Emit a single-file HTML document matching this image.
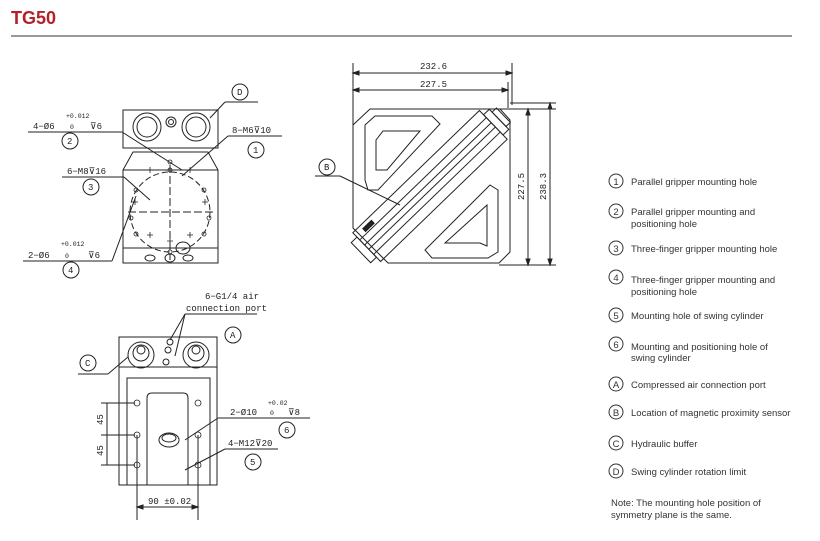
<!DOCTYPE html>
<html><head><meta charset="utf-8"><style>
body{margin:0;background:#fff;width:820px;height:541px;overflow:hidden}
svg{display:block}
.t{font-family:"Liberation Sans",sans-serif;font-size:9.5px;fill:#333}
.d{font-family:"Liberation Mono",monospace;font-size:9px;fill:#222}
.s{font-family:"Liberation Mono",monospace;font-size:6.5px;fill:#222}
</style></head><body>
<svg width="820" height="541" viewBox="0 0 820 541" xmlns="http://www.w3.org/2000/svg">
<text x="11" y="24" font-family="Liberation Sans,sans-serif" font-weight="bold" font-size="18" fill="#b3212b">TG50</text>
<line x1="11" y1="36" x2="792" y2="36" stroke="#333" stroke-width="1"/>

<g fill="none" stroke="#222" stroke-width="1">
<!-- Top-left view -->
<rect x="123" y="110" width="95" height="38"/>
<circle cx="147" cy="127" r="14"/><circle cx="147" cy="127" r="10"/>
<circle cx="196" cy="127" r="14"/><circle cx="196" cy="127" r="10"/>
<circle cx="171" cy="122" r="5"/><circle cx="171" cy="122" r="2.5"/>
<line x1="123" y1="148" x2="218" y2="148"/>
<path d="M123 170 L133 152 L208 152 L218 170 L218 263 L123 263 Z"/>
<line x1="123" y1="170" x2="218" y2="170"/>
<line x1="123" y1="248" x2="218" y2="248"/>
<ellipse cx="150" cy="258" rx="5" ry="3"/><ellipse cx="170" cy="258" rx="5" ry="4"/><ellipse cx="188" cy="258" rx="5" ry="3"/>
<ellipse cx="183" cy="248" rx="7" ry="6"/>
<circle cx="170" cy="212" r="40" stroke-dasharray="6,3"/>
<line x1="128" y1="212" x2="214" y2="212" stroke-dasharray="8,3"/>
<line x1="170" y1="165" x2="170" y2="260" stroke-dasharray="8,3"/>
<g stroke-width="0.8">
<circle cx="170" cy="170" r="2"/><circle cx="170" cy="252" r="2"/><circle cx="136" cy="190" r="2"/><circle cx="204" cy="190" r="2"/><circle cx="136" cy="234" r="2"/><circle cx="204" cy="234" r="2"/><circle cx="131" cy="218" r="2"/><circle cx="209" cy="218" r="2"/><circle cx="170" cy="162" r="2"/>
<path d="M150 167v6M147 170h6M190 167v6M187 170h6M150 232v6M147 235h6M190 232v6M187 235h6M135 199v6M132 202h6M205 199v6M202 202h6M170 238v6M167 241h6"/>
</g>
<!-- leaders top-left -->
<line x1="28" y1="132" x2="122" y2="132"/><line x1="122" y1="132" x2="182" y2="170"/>
<circle cx="70" cy="141" r="8"/>
<line x1="228" y1="136" x2="282" y2="136"/><line x1="228" y1="136" x2="182" y2="176"/>
<circle cx="256" cy="150" r="8"/>
<line x1="225" y1="102" x2="258" y2="102"/><line x1="225" y1="102" x2="210" y2="118"/>
<circle cx="240" cy="92" r="8"/>
<line x1="62" y1="177" x2="124" y2="177"/><line x1="124" y1="177" x2="150" y2="200"/>
<circle cx="91" cy="187" r="8"/>
<line x1="23" y1="261" x2="112" y2="261"/><line x1="112" y1="261" x2="136" y2="196"/>
<circle cx="71" cy="270" r="8"/>

<!-- Top-middle view -->
<line x1="353" y1="63" x2="353" y2="225"/><line x1="512" y1="63" x2="512" y2="105"/><line x1="508" y1="82" x2="508" y2="108"/>
<line x1="353" y1="73" x2="512" y2="73"/><line x1="353" y1="90" x2="508" y2="90"/>
<path d="M353 73l6-2v4zM512 73l-6-2v4zM353 90l6-2v4zM508 90l-6-2v4z" fill="#222"/>
<path d="M370 109 L500 109 L510 120 L510 252 L499 263 L388 263 L353 228 L353 125 Z"/>
<path d="M365 125 L375 116 L432 116 L440 124 L378 190 L368 190 L365 180 Z"/>
<path d="M376 140 L383 131 L420 131 L387 170 L376 170 Z"/>
<path d="M498 252 L488 258 L432 258 L425 250 L490 185 L498 190 Z"/>
<path d="M487 246 L480 243 L445 243 L487 205 Z"/>
<g transform="rotate(-44 430 186)">
<rect x="342" y="166" width="176" height="40"/>
<line x1="342" y1="176" x2="518" y2="176"/><line x1="342" y1="196" x2="518" y2="196"/>
<line x1="342" y1="183" x2="518" y2="183"/><line x1="342" y1="189" x2="518" y2="189"/>
<rect x="518" y="172" width="8" height="28"/><rect x="526" y="176" width="6" height="20"/>
<rect x="334" y="172" width="8" height="28"/>
<rect x="352" y="170" width="12" height="4" fill="#222"/>
</g>
<line x1="500" y1="109" x2="556" y2="109"/><line x1="499" y1="265" x2="556" y2="265"/><line x1="510" y1="103" x2="556" y2="103"/>
<line x1="528" y1="109" x2="528" y2="265"/><line x1="550" y1="103" x2="550" y2="265"/>
<path d="M528 109l-2 6h4zM528 265l-2-6h4zM550 103l-2 6h4zM550 265l-2-6h4z" fill="#222"/>
<circle cx="327" cy="167" r="8"/>
<line x1="315" y1="176" x2="340" y2="176"/><line x1="340" y1="176" x2="400" y2="205"/>

<!-- Bottom view -->
<rect x="119" y="337" width="98" height="148"/>
<line x1="119" y1="367" x2="217" y2="367"/>
<circle cx="141" cy="355" r="13"/><circle cx="141" cy="353" r="8"/><circle cx="141" cy="350" r="4"/>
<circle cx="196" cy="355" r="13"/><circle cx="196" cy="353" r="8"/><circle cx="196" cy="350" r="4"/>
<circle cx="168" cy="350" r="3"/><circle cx="166" cy="362" r="3"/><circle cx="170" cy="342" r="3"/>
<rect x="127" y="378" width="83" height="107"/>
<path d="M147 485 L147 398 Q147 393 152 393 L183 393 Q188 393 188 398 L188 485"/>
<ellipse cx="169" cy="440" rx="10" ry="7"/><ellipse cx="169" cy="438" rx="7" ry="4"/>
<g stroke-width="0.8">
<circle cx="137" cy="403" r="3"/><circle cx="137" cy="435" r="3"/><circle cx="137" cy="465" r="3"/>
<circle cx="198" cy="403" r="3"/><circle cx="198" cy="435" r="3"/><circle cx="198" cy="465" r="3"/>
</g>
<line x1="101" y1="403" x2="135" y2="403"/><line x1="101" y1="435" x2="135" y2="435"/><line x1="101" y1="465" x2="135" y2="465"/>
<line x1="107" y1="403" x2="107" y2="465"/>
<line x1="137" y1="435" x2="137" y2="520"/><line x1="198" y1="435" x2="198" y2="520"/>
<line x1="137" y1="507" x2="198" y2="507"/>
<path d="M137 507l6-2v4zM198 507l-6-2v4z" fill="#222"/>
<line x1="185" y1="314" x2="257" y2="314"/><line x1="185" y1="314" x2="170" y2="340"/><line x1="185" y1="314" x2="175" y2="356"/>
<circle cx="233" cy="335" r="8"/>
<circle cx="88" cy="363" r="8"/>
<line x1="78" y1="374" x2="108" y2="374"/><line x1="108" y1="374" x2="128" y2="357"/>
<line x1="218" y1="418" x2="310" y2="418"/><line x1="218" y1="418" x2="185" y2="440"/>
<circle cx="287" cy="430" r="8"/>
<line x1="225" y1="449" x2="278" y2="449"/><line x1="225" y1="449" x2="185" y2="470"/>
<circle cx="253" cy="462" r="8"/>
</g>

<!-- drawing text -->
<text class="d" x="33" y="129">4−Ø6</text><text class="s" x="66" y="118">+0.012</text><text class="s" x="70" y="129">0</text><text class="d" x="90" y="129">⊽6</text>
<text class="d" x="67" y="144">2</text>
<text class="d" x="232" y="133">8−M6⊽10</text><text class="d" x="253" y="153">1</text>
<text class="d" x="237" y="95">D</text>
<text class="d" x="67" y="174">6−M8⊽16</text><text class="d" x="88" y="190">3</text>
<text class="d" x="28" y="258">2−Ø6</text><text class="s" x="61" y="246">+0.012</text><text class="s" x="65" y="258">0</text><text class="d" x="88" y="258">⊽6</text>
<text class="d" x="68" y="273">4</text>
<text class="d" x="420" y="69">232.6</text><text class="d" x="420" y="87">227.5</text>
<text class="d" transform="translate(524 200) rotate(-90)">227.5</text>
<text class="d" transform="translate(546 200) rotate(-90)">238.3</text>
<text class="d" x="324" y="170">B</text>
<text class="d" x="205" y="299">6−G1/4 air</text><text class="d" x="186" y="311">connection port</text>
<text class="d" x="230" y="338">A</text><text class="d" x="85" y="366">C</text>
<text class="d" x="230" y="415">2−Ø10</text><text class="s" x="268" y="405">+0.02</text><text class="s" x="270" y="415">0</text><text class="d" x="288" y="415">⊽8</text>
<text class="d" x="284" y="433">6</text>
<text class="d" x="228" y="446">4−M12⊽20</text><text class="d" x="250" y="465">5</text>
<text class="d" transform="translate(103 425) rotate(-90)">45</text>
<text class="d" transform="translate(103 456) rotate(-90)">45</text>
<text class="d" x="148" y="504">90 ±0.02</text>

<!-- legend -->
<g fill="none" stroke="#333" stroke-width="1">
<circle cx="616" cy="181" r="7"/><circle cx="616" cy="211" r="7"/><circle cx="616" cy="248" r="7"/><circle cx="616" cy="277" r="7"/><circle cx="616" cy="315" r="7"/><circle cx="616" cy="344" r="7"/><circle cx="616" cy="384" r="7"/><circle cx="616" cy="412" r="7"/><circle cx="616" cy="443" r="7"/><circle cx="616" cy="471" r="7"/>
</g>
<g class="t" text-anchor="middle">
<text x="616" y="185">1</text><text x="616" y="215">2</text><text x="616" y="252">3</text><text x="616" y="281">4</text><text x="616" y="319">5</text><text x="616" y="348">6</text><text x="616" y="388">A</text><text x="616" y="416">B</text><text x="616" y="447">C</text><text x="616" y="475">D</text>
</g>
<g class="t">
<text x="631" y="185">Parallel gripper mounting hole</text>
<text x="631" y="215">Parallel gripper mounting and</text><text x="631" y="227">positioning hole</text>
<text x="631" y="252">Three-finger gripper mounting hole</text>
<text x="631" y="283">Three-finger gripper mounting and</text><text x="631" y="295">positioning hole</text>
<text x="631" y="319">Mounting hole of swing cylinder</text>
<text x="631" y="350">Mounting and positioning hole of</text><text x="631" y="361">swing cylinder</text>
<text x="631" y="388">Compressed air connection port</text>
<text x="631" y="416">Location of magnetic proximity sensor</text>
<text x="631" y="447">Hydraulic buffer</text>
<text x="631" y="475">Swing cylinder rotation limit</text>
<text x="611" y="506">Note: The mounting hole position of</text><text x="611" y="518">symmetry plane is the same.</text>
</g>
</svg>
</body></html>
